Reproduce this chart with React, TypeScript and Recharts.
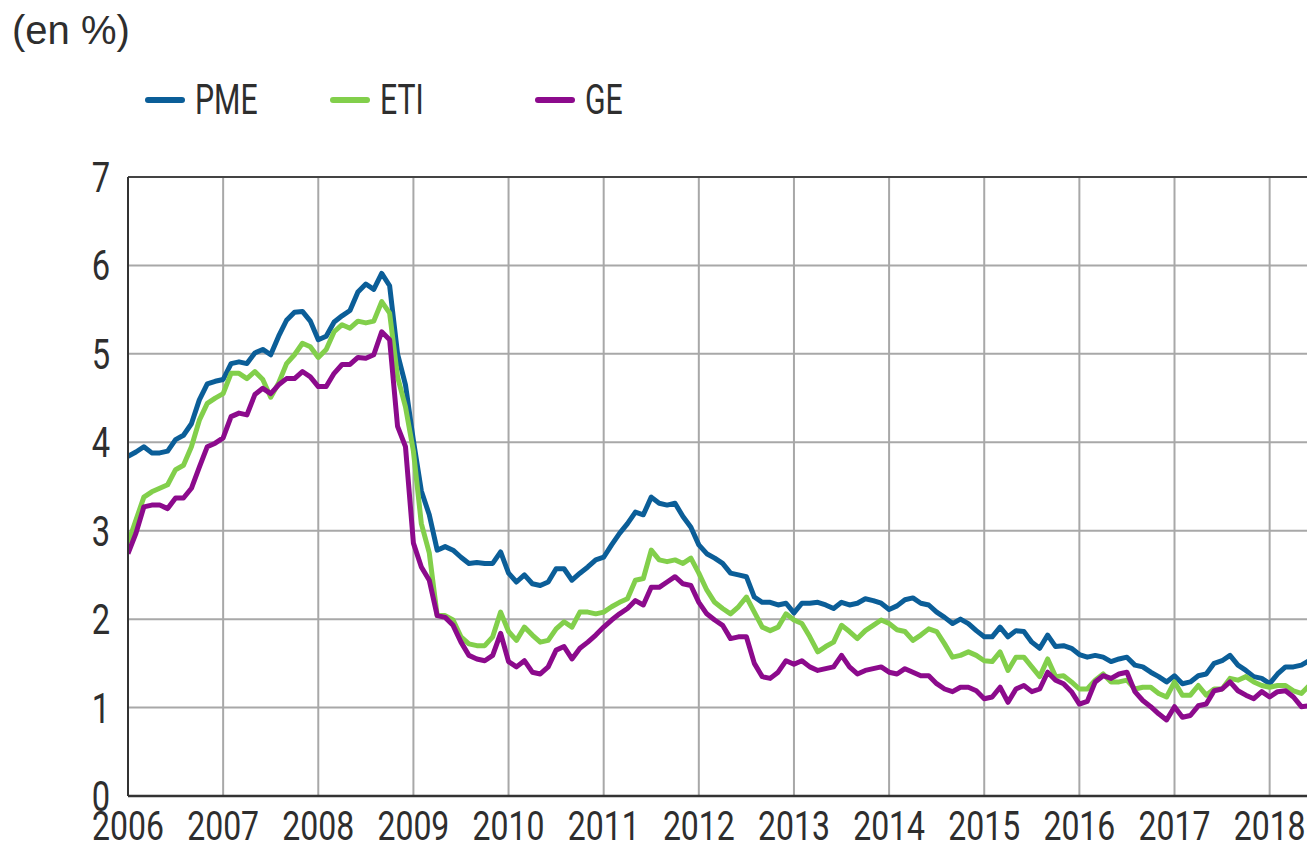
import React from "react";
import { LineChart, Line, XAxis, YAxis, CartesianGrid, ReferenceLine, Legend } from "recharts";

const START_YEAR = 2006;
const years = [2006, 2007, 2008, 2009, 2010, 2011, 2012, 2013, 2014, 2015, 2016, 2017, 2018];
const yTicks = [0, 1, 2, 3, 4, 5, 6, 7];

// taux mensuels, janvier 2006 -> juin 2018
const pme = [
  3.84, 3.89, 3.95, 3.88, 3.88, 3.90, 4.03, 4.08, 4.21, 4.48, 4.66, 4.69,
  4.71, 4.89, 4.91, 4.89, 5.01, 5.05, 4.99, 5.20, 5.38, 5.47, 5.48, 5.37,
  5.16, 5.20, 5.36, 5.43, 5.49, 5.70, 5.79, 5.73, 5.91, 5.77, 5.00, 4.65,
  4.02, 3.45, 3.18, 2.78, 2.82, 2.78, 2.70, 2.63, 2.64, 2.63, 2.63, 2.76,
  2.52, 2.42, 2.50, 2.40, 2.38, 2.42, 2.57, 2.57, 2.44, 2.52, 2.59, 2.67,
  2.70, 2.84, 2.97, 3.08, 3.21, 3.18, 3.38, 3.31, 3.29, 3.31, 3.16, 3.04,
  2.84, 2.74, 2.69, 2.63, 2.52, 2.50, 2.48, 2.25, 2.19, 2.19, 2.16, 2.18,
  2.07, 2.18, 2.18, 2.19, 2.16, 2.12, 2.19, 2.16, 2.18, 2.23, 2.21, 2.18,
  2.11, 2.15, 2.22, 2.24, 2.18, 2.16, 2.08, 2.02, 1.95, 2.00, 1.95, 1.87,
  1.80, 1.80, 1.91, 1.80, 1.87, 1.86, 1.74, 1.67, 1.82, 1.69, 1.70, 1.67,
  1.60, 1.57, 1.59, 1.57, 1.52, 1.55, 1.57, 1.48, 1.46, 1.40, 1.35, 1.29,
  1.36, 1.27, 1.29, 1.36, 1.38, 1.50, 1.53, 1.59, 1.48, 1.42, 1.35, 1.33,
  1.27, 1.38, 1.46, 1.46, 1.48, 1.53,
];

const eti = [
  2.86, 3.12, 3.38, 3.44, 3.48, 3.52, 3.69, 3.74, 3.95, 4.25, 4.44, 4.50,
  4.55, 4.78, 4.78, 4.72, 4.80, 4.71, 4.51, 4.67, 4.89, 4.99, 5.12, 5.08,
  4.96, 5.05, 5.25, 5.33, 5.29, 5.37, 5.35, 5.37, 5.59, 5.46, 4.74, 4.40,
  3.90, 3.08, 2.75, 2.04, 2.04, 1.99, 1.80, 1.72, 1.70, 1.70, 1.80, 2.08,
  1.86, 1.76, 1.91, 1.82, 1.74, 1.76, 1.89, 1.97, 1.91, 2.08, 2.08, 2.06,
  2.08, 2.14, 2.19, 2.23, 2.44, 2.46, 2.78, 2.67, 2.65, 2.67, 2.63, 2.69,
  2.52, 2.33, 2.19, 2.12, 2.06, 2.14, 2.25, 2.08, 1.91, 1.87, 1.91, 2.06,
  1.99, 1.95, 1.80, 1.63, 1.69, 1.74, 1.93, 1.86, 1.78, 1.87, 1.93, 1.99,
  1.95, 1.88, 1.86, 1.76, 1.82, 1.89, 1.86, 1.72, 1.57, 1.59, 1.63, 1.59,
  1.53, 1.52, 1.63, 1.42, 1.57, 1.57, 1.46, 1.35, 1.55, 1.35, 1.36, 1.29,
  1.21, 1.21, 1.31, 1.38, 1.29, 1.29, 1.31, 1.21, 1.23, 1.23, 1.16, 1.12,
  1.29, 1.14, 1.14, 1.25, 1.14, 1.21, 1.21, 1.33, 1.31, 1.35, 1.29, 1.25,
  1.23, 1.25, 1.25, 1.19, 1.16, 1.25,
];

const ge = [
  2.74, 2.97, 3.27, 3.29, 3.29, 3.25, 3.37, 3.37, 3.48, 3.72, 3.95, 3.99,
  4.05, 4.29, 4.33, 4.31, 4.54, 4.61, 4.55, 4.65, 4.72, 4.72, 4.80, 4.74,
  4.63, 4.63, 4.78, 4.88, 4.88, 4.96, 4.95, 4.99, 5.25, 5.16, 4.18, 3.95,
  2.86, 2.59, 2.44, 2.04, 2.02, 1.93, 1.74, 1.59, 1.55, 1.53, 1.59, 1.84,
  1.52, 1.46, 1.53, 1.40, 1.38, 1.46, 1.65, 1.69, 1.55, 1.67, 1.74, 1.82,
  1.91, 1.99, 2.06, 2.12, 2.21, 2.16, 2.36, 2.36, 2.42, 2.48, 2.40, 2.38,
  2.19, 2.06, 1.99, 1.93, 1.78, 1.80, 1.80, 1.50, 1.35, 1.33, 1.40, 1.53,
  1.49, 1.53, 1.46, 1.42, 1.44, 1.46, 1.59, 1.46, 1.38, 1.42, 1.44, 1.46,
  1.40, 1.38, 1.44, 1.40, 1.36, 1.36, 1.27, 1.21, 1.18, 1.23, 1.23, 1.19,
  1.10, 1.12, 1.23, 1.06, 1.21, 1.25, 1.18, 1.21, 1.40, 1.31, 1.27, 1.18,
  1.04, 1.07, 1.29, 1.36, 1.33, 1.38, 1.40, 1.18, 1.08, 1.01, 0.93, 0.86,
  1.01, 0.89, 0.91, 1.02, 1.04, 1.19, 1.21, 1.29, 1.19, 1.14, 1.10, 1.18,
  1.12, 1.18, 1.19, 1.12, 1.01, 1.02,
];

const series = [
  { key: "pme", name: "PME", color: "#0b5e98" },
  { key: "eti", name: "ETI", color: "#82cf4b" },
  { key: "ge", name: "GE", color: "#8c0a8c" },
];

const data = pme.map((v, i) => ({ t: START_YEAR + i / 12, pme: v, eti: eti[i], ge: ge[i] }));

const FONT = "Roboto, sans-serif";
const TEXT = "#2e2e2e";
const SQUEEZE = 0.76;
const legendX = [145, 330, 535];

// étiquettes étroites, comme la police condensée d'origine
const XTick = ({ x, y, payload }: any) => (
  <g transform={`translate(${x},${y + 44})`}>
    <text transform={`scale(${SQUEEZE + 0.02},1)`} textAnchor="middle" fill={TEXT} fontSize={41} fontFamily={FONT}>
      {payload.value}
    </text>
  </g>
);

const YTick = ({ x, y, payload }: any) => (
  <g transform={`translate(${x},${y + 15})`}>
    <text transform={`scale(${SQUEEZE},1)`} textAnchor="end" fill={TEXT} fontSize={43} fontFamily={FONT}>
      {payload.value}
    </text>
  </g>
);

function renderLegend() {
  return (
    <div style={{ position: "relative", height: 50, width: 700 }}>
      {series.map((s, i) => (
        <div key={s.key} style={{ position: "absolute", left: legendX[i], top: 0, display: "flex", alignItems: "center" }}>
          <span style={{ display: "inline-block", width: 40, height: 6, borderRadius: 3, background: s.color, marginRight: 10 }} />
          <span
            style={{
              display: "inline-block",
              fontFamily: FONT,
              fontSize: 42,
              color: TEXT,
              lineHeight: "48px",
              transform: `scale(${SQUEEZE - 0.04},1)`,
              transformOrigin: "left center",
            }}
          >
            {s.name}
          </span>
        </div>
      ))}
    </div>
  );
}

export default function App() {
  return (
    <div style={{ position: "fixed", left: 0, top: 0, width: 1307, height: 851, overflow: "hidden", background: "#fff" }}>
      <div style={{ position: "absolute", left: 12, top: 8, fontFamily: '"Liberation Sans", sans-serif', fontSize: 40, color: TEXT }}>
        (en %)
      </div>
      <LineChart width={1341} height={851} data={data} margin={{ top: 177, right: 0, bottom: 5, left: 0 }}>
        <CartesianGrid stroke="#a8a8a8" strokeWidth={2} />
        <XAxis
          type="number"
          dataKey="t"
          domain={[2006, 2018.75]}
          ticks={years}
          allowDataOverflow
          height={50}
          tickSize={0}
          tickMargin={0}
          axisLine={{ stroke: "#333", strokeWidth: 2.5 }}
          tick={<XTick />}
        />
        <YAxis
          domain={[0, 7]}
          ticks={yTicks}
          width={128}
          tickSize={0}
          tickMargin={18}
          axisLine={{ stroke: "#333", strokeWidth: 2 }}
          tick={<YTick />}
        />
        <ReferenceLine y={7} stroke="#444" strokeWidth={2} />
        <Legend
          layout="horizontal"
          verticalAlign="middle"
          align="center"
          content={renderLegend}
          wrapperStyle={{ top: 76, left: 0, width: 700 }}
        />
        {series.map((s) => (
          <Line
            key={s.key}
            type="linear"
            dataKey={s.key}
            name={s.name}
            stroke={s.color}
            strokeWidth={5}
            strokeLinejoin="round"
            dot={false}
            activeDot={false}
            isAnimationActive={false}
          />
        ))}
      </LineChart>
    </div>
  );
}
